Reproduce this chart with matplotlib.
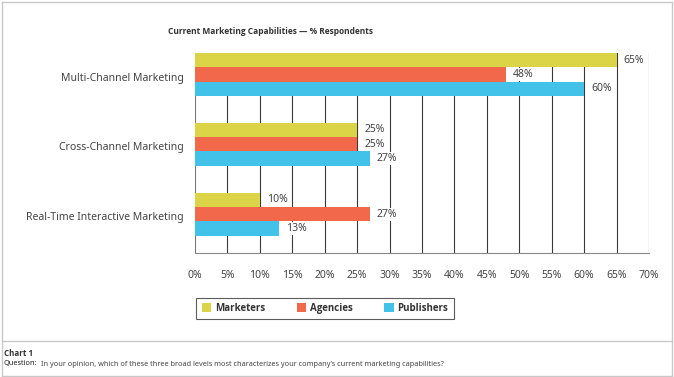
import matplotlib
matplotlib.use("Agg")
import matplotlib.pyplot as plt
from matplotlib.patches import Patch
from matplotlib.lines import Line2D
import numpy as np

plt.rcParams['font.family'] = ['Noto Sans', 'DejaVu Sans']
BOLD = ['Open Sans', 'DejaVu Sans']

# data
categories = ["Multi-Channel Marketing", "Cross-Channel Marketing", "Real-Time Interactive Marketing"]
series_names = ["Marketers", "Agencies", "Publishers"]
marketers = [65, 25, 10]
agencies = [48, 25, 27]
publishers = [60, 27, 13]
x_ticks = list(range(0, 75, 5))
tick_labels = [f"{t}%" for t in x_ticks]
title = "Current Marketing Capabilities \u2014 % Respondents"

colors = ["#DCD447", "#F2684A", "#42C1E9"]

W, H = 674, 377
fig = plt.figure(figsize=(W / 100, H / 100), dpi=100)

def fx(px):
    return px / W

def fy(py):
    return 1 - py / H

# axes placed in pixel terms
ax = fig.add_axes([fx(195), fy(253), fx(649) - fx(195), fy(53) - fy(253)])

bh = 0.205
ypos = np.arange(len(categories))
all_series = [marketers, agencies, publishers]
for i, (vals, name, c) in enumerate(zip(all_series, series_names, colors)):
    yy = ypos + (i - 1) * bh
    ax.barh(yy, vals, height=bh, color=c, zorder=3, label=name)
    for y, v in zip(yy, vals):
        ax.annotate(f"{v}%", (v, y), xytext=(5, 0), textcoords="offset points",
                    ha="left", va="center", fontsize=7.5, color="#444444", zorder=4,
                    bbox=dict(boxstyle="square,pad=0.1", fc="white", ec="none"))

# gridlines
for t in x_ticks:
    ax.axvline(t, color="#3a3a3a" if t else "#777777", lw=0.8, zorder=1)

ax.set_xlim(0, 70)
ax.set_ylim(2 + 0.557, -0.307)
for s in ["top", "right", "left"]:
    ax.spines[s].set_visible(False)
ax.spines["bottom"].set_color("#888888")
ax.spines["bottom"].set_linewidth(0.8)
ax.set_xticks(x_ticks)
ax.set_xticklabels(tick_labels, fontsize=7.5, color="#444444")
ax.tick_params(axis="x", length=0, pad=12)
ax.set_yticks(ypos + 0.03)
ax.set_yticklabels(categories, fontsize=7.5, color="#444444")
ax.tick_params(axis="y", length=0, pad=8)

fig.text(fx(271), fy(31), title, ha="center", va="center", fontsize=6,
         fontweight="bold", color="#333333", family=BOLD)

handles = [Patch(facecolor=c, edgecolor="none", label=n) for c, n in zip(colors, series_names)]
leg = fig.legend(handles=handles, loc="center", bbox_to_anchor=(fx(325), fy(308.5)),
                 ncol=3, frameon=True, fancybox=False, handlelength=1.0, handleheight=1.0,
                 handletextpad=0.4, columnspacing=3.2, borderpad=0.55,
                 prop={"size": 7, "weight": "bold", "family": BOLD})
leg.get_frame().set_edgecolor("#333333")
leg.get_frame().set_linewidth(0.8)
for txt in leg.get_texts():
    txt.set_color("#333333")

# outer frame and caption area
border = "#c8c8c8"
fig.add_artist(Line2D([fx(2), fx(2)], [fy(2), fy(376)], color=border, lw=1))
fig.add_artist(Line2D([fx(672), fx(672)], [fy(2), fy(376)], color=border, lw=1))
fig.add_artist(Line2D([fx(2), fx(672)], [fy(2), fy(2)], color=border, lw=1))
fig.add_artist(Line2D([fx(2), fx(672)], [fy(341), fy(341)], color=border, lw=1))
fig.add_artist(Line2D([fx(2), fx(672)], [fy(376), fy(376)], color=border, lw=1))

fig.text(fx(4), fy(353), "Chart 1", ha="left", va="center", fontsize=5.8,
         fontweight="bold", color="#333333", family=BOLD)
q = fig.text(fx(4), fy(364), "Question:", ha="left", va="center", fontsize=5.3,
             color="#222222")
fig.canvas.draw()
qx = q.get_window_extent().x1 / W + fx(3)
fig.text(qx, fy(364), "In your opinion, which of these three broad levels most characterizes your company\u2019s current marketing capabilities?",
         ha="left", va="center", fontsize=5.3, color="#444444")

fig.savefig("out.png", dpi=100)
